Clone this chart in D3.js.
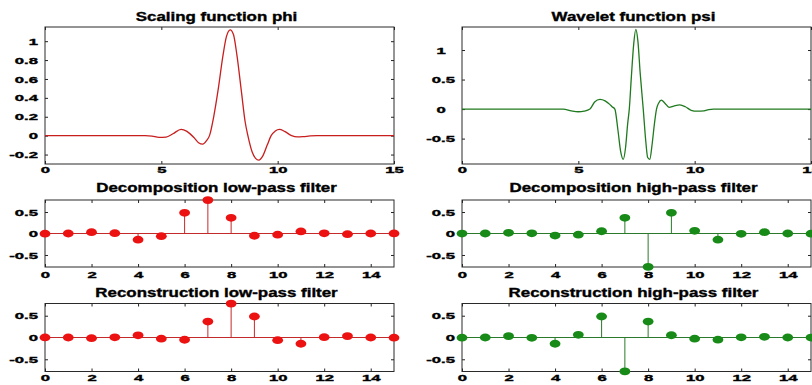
<!DOCTYPE html>
<html>
<head>
<meta charset="utf-8">
<script src="https://cdn.jsdelivr.net/npm/d3@7"></script>
<style>
  html, body { margin: 0; padding: 0; background: #fff; }
  svg { display: block; }
</style>
</head>
<body>
<svg id="chart" width="812" height="385"></svg>
<script>
// ---- Symlet 8: scaling function phi, sampled ----
const phiX = [0, 4.3, 4.6, 4.9, 5.2, 5.5, 5.85, 6.1, 6.4, 6.6, 6.78, 6.95, 7.07, 7.25, 7.45, 7.65, 7.8, 7.96, 8.1, 8.25, 8.45, 8.6, 8.72, 8.9, 9.05, 9.19, 9.35, 9.55, 9.72, 9.9, 10.08, 10.3, 10.6, 10.85, 11.1, 11.4, 11.7, 15];
const phiY = [0, 0, -0.005, -0.018, -0.015, 0.02, 0.067, 0.045, -0.02, -0.075, -0.09, -0.05, 0, 0.2, 0.5, 0.85, 1.05, 1.12, 1.07, 0.85, 0.45, 0.15, 0, -0.17, -0.24, -0.26, -0.22, -0.1, 0, 0.05, 0.067, 0.045, 0, -0.013, -0.01, -0.003, 0, 0];

// ---- wavelet function psi, sampled ----
const psiX = [0, 4.35, 4.7, 5.0, 5.25, 5.5, 5.7, 5.93, 6.15, 6.35, 6.45, 6.57, 6.7, 6.82, 6.93, 7.03, 7.12, 7.19, 7.28, 7.38, 7.47, 7.56, 7.66, 7.79, 7.9, 7.98, 8.07, 8.17, 8.27, 8.36, 8.45, 8.57, 8.72, 8.9, 9.1, 9.36, 9.6, 9.85, 10.1, 10.4, 10.6, 10.8, 15];
const psiY = [0, 0, -0.03, -0.045, -0.035, 0, 0.12, 0.165, 0.14, 0.08, 0.04, 0, -0.35, -0.72, -0.85, -0.65, -0.25, 0, 0.55, 1.1, 1.35, 1.15, 0.6, 0, -0.55, -0.82, -0.85, -0.6, -0.25, 0, 0.1, 0.15, 0.1, 0.03, 0.05, 0.07, 0.04, -0.02, -0.035, -0.03, -0.01, 0, 0];

// ---- filter coefficients ----
const taps = [0, 1, 2, 3, 4, 5, 6, 7, 8, 9, 10, 11, 12, 13, 14, 15];
const decLo = [-0.0034, -0.0005, 0.0317, 0.0076, -0.1433, -0.0613, 0.4814, 0.7772, 0.3644, -0.0519, -0.0272, 0.0491, 0.0038, -0.0150, -0.0003, 0.0019];
const decHi = [-0.0019, -0.0003, 0.0150, 0.0038, -0.0491, -0.0272, 0.0519, 0.3644, -0.7772, 0.4814, 0.0613, -0.1433, -0.0076, 0.0317, 0.0005, -0.0034];
const recLo = [0.0019, -0.0003, -0.0150, 0.0038, 0.0491, -0.0272, -0.0519, 0.3644, 0.7772, 0.4814, -0.0613, -0.1433, 0.0076, 0.0317, -0.0005, -0.0034];
const recHi = [-0.0034, 0.0005, 0.0317, -0.0076, -0.1433, 0.0613, 0.4814, -0.7772, 0.3644, 0.0519, -0.0272, -0.0491, 0.0038, 0.0150, -0.0003, -0.0019];

// ---- tick values ----
const curveXTicks = [0, 5, 10, 15];
const stemXTicks = [0, 2, 4, 6, 8, 10, 12, 14];
const phiYTicks = [-0.2, 0, 0.2, 0.4, 0.6, 0.8, 1];
const psiYTicks = [-0.5, 0, 0.5, 1];
const stemYTicks = [-0.5, 0, 0.5];

// ---- layout ----
const cols = [{ left: 45, right: 394 }, { left: 462, right: 811 }];
const rows = [
  { top: 27, bottom: 164, titleY: 21, labelY: 173 },
  { top: 200, bottom: 267, titleY: 192, labelY: 278 },
  { top: 303.5, bottom: 371.5, titleY: 297, labelY: 381 }
];
const RED = { line: "#c81e1e", stem: "#c42a2a", mark: "#ec1212" };
const GREEN = { line: "#1f7a1f", stem: "#2b7a2b", mark: "#178a17" };
const FONT = "'Liberation Sans', Arial, Helvetica, sans-serif";
const TITLE_SIZE = 12, TITLE_SX = 1.41;
const TICK_SIZE = 9, TICK_SX = 1.85;

const svg = d3.select("#chart");

// heavy, horizontally widened label text
function heavy(sel, size) {
  return sel.style("font", `bold ${size}px ${FONT}`)
    .attr("fill", "#000").attr("stroke", "#000")
    .attr("stroke-width", 0.35).attr("paint-order", "stroke");
}

function stretchedText(parent, x, y, str, anchor, size, sx) {
  return heavy(parent.append("text")
    .attr("transform", `translate(${x},${y}) scale(${sx},1)`)
    .attr("text-anchor", anchor)
    .style("white-space", "pre")
    .text(str), size);
}

function panel(col, row, opts) {
  const { left, right } = cols[col];
  const { top, bottom, titleY, labelY } = rows[row];
  const x = d3.scaleLinear().domain([0, 15]).range([left, right]);
  const y = d3.scaleLinear().domain(opts.yDomain).range([bottom, top]);
  const g = svg.append("g");

  const fmt = opts.yFormat || (d => String(d));

  // bottom axis with labels
  const bx = g.append("g").attr("transform", `translate(0,${bottom})`)
    .call(d3.axisBottom(x).tickValues(opts.xTicks).tickSize(-3).tickSizeOuter(0).tickFormat(d => String(d)));
  // left axis with labels
  const ly = g.append("g").attr("transform", `translate(${left},0)`)
    .call(d3.axisLeft(y).tickValues(opts.yTicks).tickSize(-3).tickSizeOuter(0).tickFormat(fmt));
  // mirrored ticks on top and right
  const tx = g.append("g").attr("transform", `translate(0,${top})`)
    .call(d3.axisTop(x).tickValues(opts.xTicks).tickSize(-3).tickSizeOuter(0).tickFormat(() => ""));
  const ry = g.append("g").attr("transform", `translate(${right},0)`)
    .call(d3.axisRight(y).tickValues(opts.yTicks).tickSize(-3).tickSizeOuter(0).tickFormat(() => ""));

  [bx, ly, tx, ry].forEach(a => {
    a.attr("font-size", null).attr("font-family", null).attr("color", "#222");
    a.select(".domain").remove();
  });

  bx.selectAll(".tick text").each(function () {
    heavy(d3.select(this).attr("y", null).attr("dy", null)
      .attr("transform", `translate(0,${labelY - bottom}) scale(${TICK_SX},1)`)
      .attr("text-anchor", "middle"), TICK_SIZE);
  });
  ly.selectAll(".tick text").each(function () {
    heavy(d3.select(this).attr("x", null).attr("dy", "0.34em")
      .attr("transform", `translate(-7,0) scale(${TICK_SX},1)`)
      .attr("text-anchor", "end")
      .style("white-space", "pre"), TICK_SIZE);
  });

  // frame
  g.append("rect")
    .attr("x", left).attr("y", top)
    .attr("width", right - left).attr("height", bottom - top)
    .attr("fill", "none").attr("stroke", "#2a2a2a").attr("stroke-width", 1);

  stretchedText(g, (left + right) / 2 - 3, titleY, opts.title, "middle", TITLE_SIZE, TITLE_SX);

  return { g, x, y };
}

function curvePanel(col, opts) {
  const { g, x, y } = panel(col, 0, {
    yDomain: opts.yDomain, xTicks: curveXTicks, yTicks: opts.yTicks,
    title: opts.title, yFormat: opts.yFormat
  });
  const pts = opts.xs.map((v, i) => [v, opts.ys[i]]);
  const line = d3.line().x(d => x(d[0])).y(d => y(d[1])).curve(d3.curveMonotoneX);
  g.append("path").datum(pts)
    .attr("d", line)
    .attr("fill", "none").attr("stroke", opts.color).attr("stroke-width", 1.3)
    .attr("stroke-linejoin", "round");
}

function stemPanel(col, row, values, title, colors) {
  const { g, x, y } = panel(col, row, {
    yDomain: [-0.78, 0.78], xTicks: stemXTicks, yTicks: stemYTicks, title
  });
  // baseline
  g.append("line")
    .attr("x1", x(0)).attr("x2", x(15))
    .attr("y1", y(0)).attr("y2", y(0))
    .attr("stroke", colors.stem).attr("stroke-width", 1);
  const data = taps.map((t, i) => ({ t, v: values[i] }));
  g.selectAll("line.stem").data(data).join("line")
    .attr("class", "stem")
    .attr("x1", d => x(d.t)).attr("x2", d => x(d.t))
    .attr("y1", y(0)).attr("y2", d => y(d.v))
    .attr("stroke", colors.stem).attr("stroke-width", 1);
  g.selectAll("ellipse.mark").data(data).join("ellipse")
    .attr("class", "mark")
    .attr("cx", d => x(d.t)).attr("cy", d => y(d.v))
    .attr("rx", 5.4).attr("ry", 3.9)
    .attr("fill", colors.mark);
}

curvePanel(0, {
  title: "Scaling function phi", xs: phiX, ys: phiY,
  yDomain: [-0.3, 1.15], yTicks: phiYTicks, color: RED.line
});
curvePanel(1, {
  title: "Wavelet function psi", xs: psiX, ys: psiY,
  yDomain: [-0.93, 1.39], yTicks: psiYTicks, color: GREEN.line,
  yFormat: d => Number.isInteger(d) ? String(d) + "\u00a0\u00a0" : String(d)
});

stemPanel(0, 1, decLo, "Decomposition low-pass filter", RED);
stemPanel(1, 1, decHi, "Decomposition high-pass filter", GREEN);
stemPanel(0, 2, recLo, "Reconstruction low-pass filter", RED);
stemPanel(1, 2, recHi, "Reconstruction high-pass filter", GREEN);
</script>
</body>
</html>
